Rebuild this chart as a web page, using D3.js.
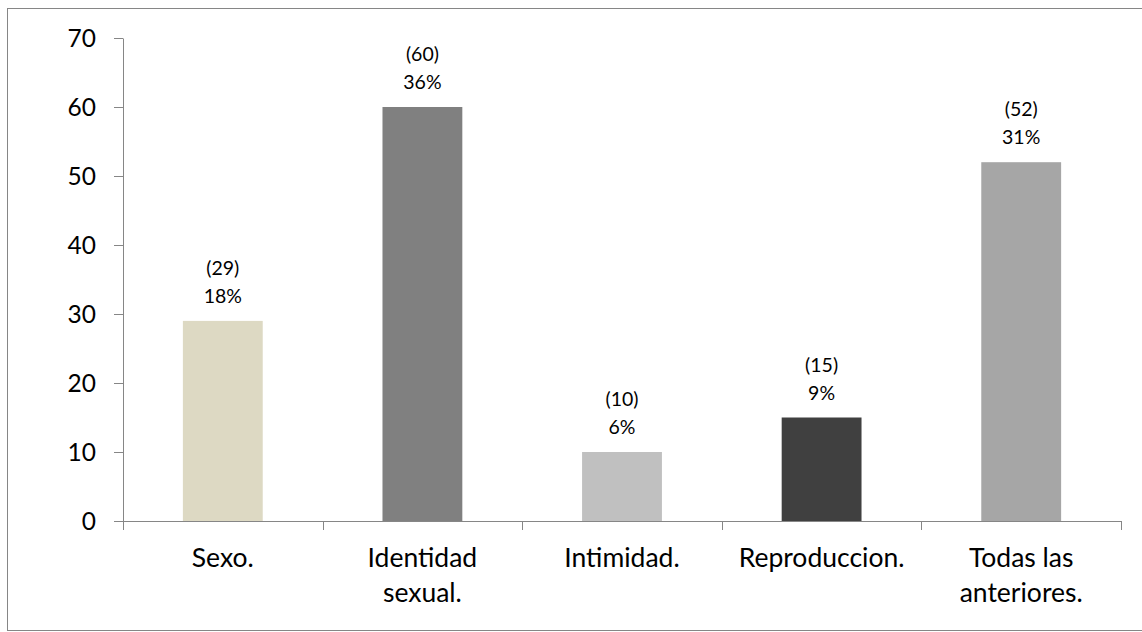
<!DOCTYPE html>
<html>
<head>
<meta charset="utf-8">
<script src="https://cdn.jsdelivr.net/npm/d3@7"></script>
<style>
  body { margin: 0; background: #fff; }
  text { font-family: Lato, "Open Sans", sans-serif; fill: #000; }
</style>
</head>
<body>
<script>
// chart data
var categories = ["Sexo.", "Identidad sexual.", "Intimidad.", "Reproduccion.", "Todas las anteriores."];
var values = [29, 60, 10, 15, 52];
var percents = ["18%", "36%", "6%", "9%", "31%"];
var colors = ["#ddd9c3", "#808080", "#c0c0c0", "#404040", "#a6a6a6"];
var yTicks = [0, 10, 20, 30, 40, 50, 60, 70];

var W = 1142, H = 632;
var margin = {top: 38, right: 21, bottom: 111, left: 123};

var svg = d3.select("body").append("svg")
  .attr("width", W)
  .attr("height", H);

// outer frame (right edge runs off the picture)
svg.append("rect")
  .attr("x", 7.5).attr("y", 8.5)
  .attr("width", 1145).attr("height", 622)
  .attr("fill", "none")
  .attr("stroke", "#868686");

var x = d3.scaleBand()
  .domain(categories)
  .range([margin.left, W - margin.right])
  .paddingInner(0).paddingOuter(0);

var y = d3.scaleLinear()
  .domain([0, 70])
  .range([H - margin.bottom, margin.top]);

var g = svg.append("g");

// bars
var barW = x.bandwidth() * 0.4;
g.selectAll("rect.bar").data(values).enter()
  .append("rect")
  .attr("class", "bar")
  .attr("x", function(d, i) { return x(categories[i]) + (x.bandwidth() - barW) / 2; })
  .attr("y", function(d) { return y(d); })
  .attr("width", barW)
  .attr("height", function(d) { return y(0) - y(d); })
  .attr("fill", function(d, i) { return colors[i]; });

// y axis
var yAxis = g.append("g")
  .attr("transform", "translate(" + margin.left + ",0)")
  .call(d3.axisLeft(y).tickValues(yTicks).tickSize(9).tickPadding(18).tickSizeOuter(0));
yAxis.select(".domain").attr("stroke", "#868686");
yAxis.selectAll(".tick line").attr("stroke", "#868686");
yAxis.selectAll(".tick text").attr("font-size", "24.5px").attr("dy", "0.35em");

// x axis line + boundary ticks
var base = y(0);
g.append("line")
  .attr("x1", margin.left).attr("x2", W - margin.right)
  .attr("y1", base + 0.5).attr("y2", base + 0.5)
  .attr("stroke", "#868686");
var bounds = categories.map(function(c) { return x(c); }).concat([W - margin.right]);
g.selectAll("line.xt").data(bounds).enter()
  .append("line")
  .attr("class", "xt")
  .attr("x1", function(d) { return Math.round(d) + 0.5; })
  .attr("x2", function(d) { return Math.round(d) + 0.5; })
  .attr("y1", base).attr("y2", base + 9)
  .attr("stroke", "#868686");

// category labels, wrapped to two lines where needed
function wrapLabel(s) {
  var words = s.split(" ");
  if (words.length < 2) return [s];
  if (words.length == 2) return words;
  return [words.slice(0, 2).join(" "), words.slice(2).join(" ")];
}
g.selectAll("text.cat").data(categories).enter()
  .append("text")
  .attr("class", "cat")
  .attr("text-anchor", "middle")
  .attr("font-size", "26.5px")
  .each(function(c) {
    var t = d3.select(this);
    wrapLabel(c).forEach(function(line, k) {
      t.append("tspan")
        .attr("x", x(c) + x.bandwidth() / 2)
        .attr("y", 567 + k * 35)
        .text(line);
    });
  });

// data labels
var lab = g.selectAll("g.lab").data(values).enter()
  .append("g")
  .attr("class", "lab");
lab.append("text")
  .attr("text-anchor", "middle")
  .attr("font-size", "19.5px")
  .attr("x", function(d, i) { return x(categories[i]) + x.bandwidth() / 2; })
  .attr("y", function(d) { return y(d) - 46; })
  .text(function(d) { return "(" + d + ")"; });
lab.append("text")
  .attr("text-anchor", "middle")
  .attr("font-size", "19.5px")
  .attr("x", function(d, i) { return x(categories[i]) + x.bandwidth() / 2; })
  .attr("y", function(d) { return y(d) - 18; })
  .text(function(d, i) { return percents[i]; });
</script>
</body>
</html>
